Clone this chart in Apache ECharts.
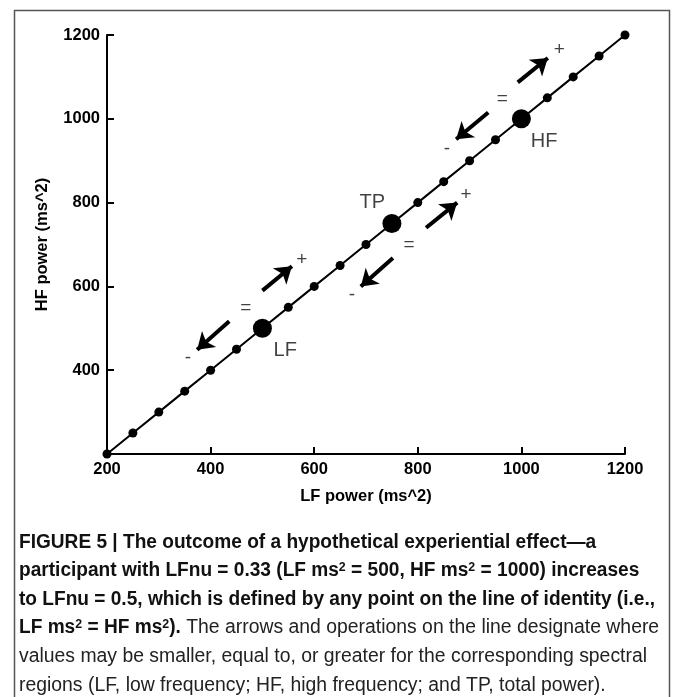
<!DOCTYPE html>
<html>
<head>
<meta charset="utf-8">
<script src="https://cdn.jsdelivr.net/npm/echarts@6/dist/echarts.min.js"></script>
<style>
  html, body { margin: 0; padding: 0; background: #fff; }
  #powerChart { width: 673px; height: 697px; }
</style>
</head>
<body>
<div id="powerChart"></div>
<script>
  // line of identity, LF power = HF power
  const lineX = [200, 250, 300, 350, 400, 450, 500, 550, 600, 650, 700, 750, 800, 850, 900, 950, 1000, 1050, 1100, 1150, 1200];
  const lineY = [200, 250, 300, 350, 400, 450, 500, 550, 600, 650, 700, 750, 800, 850, 900, 950, 1000, 1050, 1100, 1150, 1200];

  // the three marked spectral regions
  const regionNames = ['LF', 'TP', 'HF'];
  const regionX = [500, 750, 1000];
  const regionY = [500, 750, 1000];
  const regionLabelX = [544, 712, 1044];
  const regionLabelY = [447, 800, 946];

  // arrows (tail -> tip)
  const arrowTailX = [500, 436, 816, 752, 993, 936];
  const arrowTailY = [590, 517, 740, 668, 1087, 1015];
  const arrowTipX = [557, 374, 876, 690, 1051, 874];
  const arrowTipY = [648, 449, 800, 600, 1145, 951];

  // operation signs next to the arrows
  const signText = ['+', '=', '-', '+', '=', '-', '+', '=', '-'];
  const signX = [576, 468, 356, 893, 783, 673, 1073, 963, 856];
  const signY = [663, 548, 430, 819, 699, 579, 1164, 1047, 929];

  const axisTicks = [200, 400, 600, 800, 1000, 1200];

  // caption: [bold part, normal part] per line, {s|2} = superscript
  const captionLines = [
    ['FIGURE 5 | The outcome of a hypothetical experiential effect\u2014a', ''],
    ['participant with LFnu = 0.33 (LF ms{s|2} = 500, HF ms{s|2} = 1000) increases', ''],
    ['to LFnu = 0.5, which is defined by any point on the line of identity (i.e.,', ''],
    ['LF ms{s|2} = HF ms{s|2}).', ' The arrows and operations on the line designate where'],
    ['', 'values may be smaller, equal to, or greater for the corresponding spectral'],
    ['', 'regions (LF, low frequency; HF, high frequency; and TP, total power).']
  ];

  const FONT = '"Liberation Sans", Arial, sans-serif';
  const CAP_FONT = '"Liberation Sans Narrow", "Liberation Sans", Arial, sans-serif';
  const CAP_SIZE = 20;
  const SUP_SIZE = 13;

  const ctx = document.createElement('canvas').getContext('2d');
  function capWidth(text, weight) {
    let w = 0;
    text.split(/(\{s\|[^}]*\})/).forEach(part => {
      const m = part.match(/^\{s\|([^}]*)\}$/);
      if (m) {
        ctx.font = weight + ' ' + SUP_SIZE + 'px ' + CAP_FONT;
        w += ctx.measureText(m[1]).width;
      } else if (part) {
        ctx.font = weight + ' ' + CAP_SIZE + 'px ' + CAP_FONT;
        w += ctx.measureText(part).width;
      }
    });
    return w;
  }
  // squeeze the caption horizontally like the condensed journal font
  const capLeft = 19;
  const boldScale = (655 - capLeft) / capWidth(captionLines[2][0], 'bold');
  const normScale = (647 - capLeft) / capWidth(captionLines[4][1], 'normal');

  const captionGraphics = [];
  captionLines.forEach((pair, i) => {
    const y = 542 + i * 28.6;
    let x = capLeft;
    [['bold', boldScale, '#111'], ['normal', normScale, '#222']].forEach((w, k) => {
      const txt = pair[k];
      if (!txt) return;
      captionGraphics.push({
        type: 'text', x: x, y: y, scaleX: w[1], silent: true,
        style: {
          text: txt, x: 0, y: 0, fill: w[2],
          fontSize: CAP_SIZE, fontWeight: w[0], fontFamily: CAP_FONT, verticalAlign: 'middle',
          rich: { s: { fontSize: SUP_SIZE, fontWeight: w[0], fontFamily: CAP_FONT, fill: w[2], verticalAlign: 'top' } }
        }
      });
      x += capWidth(txt, w[0]) * w[1];
    });
  });

  const myChart = echarts.init(document.getElementById('powerChart'), null, { renderer: 'canvas' });

  const axisCommon = {
    type: 'value',
    min: 200,
    max: 1200,
    interval: 200,
    nameLocation: 'middle',
    nameTextStyle: { color: '#000', fontWeight: 'bold', fontSize: 16.5, fontFamily: FONT },
    axisLine: { lineStyle: { color: '#000', width: 2 } },
    axisTick: { inside: true, length: 7, lineStyle: { color: '#000', width: 2 } },
    splitLine: { show: false }
  };

  const option = {
    animation: false,
    backgroundColor: '#fff',
    textStyle: { fontFamily: FONT },
    grid: { left: 107, right: 48, top: 35, bottom: 243 },
    xAxis: Object.assign({}, axisCommon, {
      name: 'LF power (ms^2)',
      nameGap: 34,
      axisLabel: { color: '#000', fontWeight: 'bold', fontSize: 16.5, fontFamily: FONT, margin: 7, formatter: v => String(v) }
    }),
    yAxis: Object.assign({}, axisCommon, {
      name: 'HF power (ms^2)',
      nameGap: 56,
      axisLabel: {
        color: '#000', fontWeight: 'bold', fontSize: 16.5, fontFamily: FONT, margin: 7,
        formatter: v => (v === axisTicks[0] ? '' : String(v))
      }
    }),
    series: [
      {
        name: 'identity',
        type: 'line',
        data: lineX.map((x, i) => [x, lineY[i]]),
        symbol: 'circle',
        symbolSize: 9,
        showAllSymbol: true,
        lineStyle: { color: '#000', width: 2 },
        itemStyle: { color: '#000' },
        z: 2
      },
      {
        name: 'regions',
        type: 'scatter',
        data: regionX.map((x, i) => [x, regionY[i]]),
        symbolSize: 19,
        itemStyle: { color: '#000', opacity: 1 },
        z: 3
      },
      {
        name: 'arrows',
        type: 'lines',
        coordinateSystem: 'cartesian2d',
        data: arrowTailX.map((x, i) => ({ coords: [[x, arrowTailY[i]], [arrowTipX[i], arrowTipY[i]]] })),
        symbol: ['none', 'arrow'],
        symbolSize: 16,
        lineStyle: { color: '#000', width: 4, opacity: 1, curveness: 0 },
        z: 4
      },
      {
        name: 'signs',
        type: 'scatter',
        data: signX.map((x, i) => ({ value: [x, signY[i]], name: signText[i] })),
        symbolSize: 1,
        itemStyle: { color: 'rgba(0,0,0,0)' },
        label: {
          show: true, position: 'inside', formatter: p => p.name,
          color: '#111', fontSize: 19, fontFamily: FONT
        },
        z: 5
      },
      {
        name: 'regionLabels',
        type: 'scatter',
        data: regionLabelX.map((x, i) => ({ value: [x, regionLabelY[i]], name: regionNames[i] })),
        symbolSize: 1,
        itemStyle: { color: 'rgba(0,0,0,0)' },
        label: {
          show: true, position: 'inside', formatter: p => p.name,
          color: '#111', fontSize: 20, fontFamily: FONT
        },
        z: 5
      }
    ],
    graphic: [
      {
        type: 'rect', silent: true,
        shape: { x: 14.5, y: 10.5, width: 655, height: 720 },
        style: { fill: 'none', stroke: '#555', lineWidth: 1.5 }
      }
    ].concat(captionGraphics)
  };

  myChart.setOption(option);
</script>
</body>
</html>
